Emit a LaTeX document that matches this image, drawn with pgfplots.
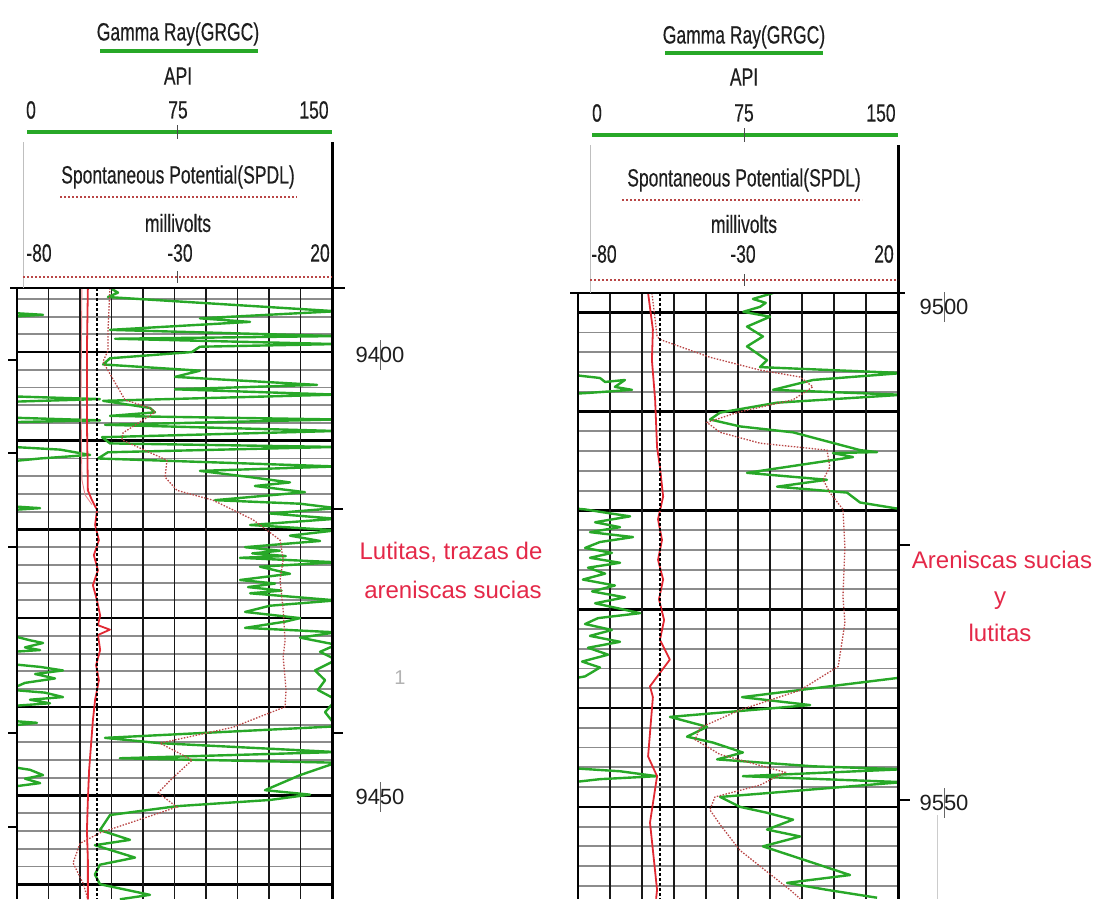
\documentclass[border=0pt]{standalone}
\usepackage{fontspec}
\setmainfont{Liberation Sans}
\newfontfamily\narrow[FakeStretch=0.70, FakeBold=0.35]{Liberation Sans}
\usepackage{pgfplots}
\pgfplotsset{compat=1.18}
\definecolor{grgreen}{RGB}{40,168,40}
\definecolor{spred}{RGB}{185,70,70}
\definecolor{curvered}{RGB}{225,40,50}
\definecolor{annot}{RGB}{228,40,72}
\definecolor{hdrtext}{RGB}{30,30,30}
\newcommand{\hdr}{\narrow\fontsize{25}{29}\selectfont}
\pgfplotsset{
  trackbase/.style={scale only axis, anchor=north west, y dir=reverse,
    axis line style={draw=none}, major tick length=0pt, minor tick length=0pt,
    xticklabels={}, yticklabels={}, clip=true},
  grline/.style={grgreen, line width=2.4pt, line join=round},
  spcurve/.style={spred, line width=1.3pt, dash pattern=on 1.5pt off 1.5pt},
  redcurve/.style={curvered, line width=1.8pt, line join=round},
  shaleline/.style={black, line width=2.2pt, dash pattern=on 2.5pt off 2.5pt},
  hgrid/.style={xtick=\empty, ymajorgrids, yminorgrids,
    major grid style={black, line width=2.6pt},
    minor grid style={black!45, line width=1.9pt}},
  vgrid/.style={xtick={0,15,...,150}, ytick=\empty, xmajorgrids,
    major grid style={black!90, line width=1.8pt}},
}
\begin{document}
\begin{tikzpicture}

% ================= LEFT TRACK =================
\begin{axis}[trackbase, hgrid, at={(17pt,-288pt)}, width=315pt, height=611pt,
  xmin=0, xmax=150, ymin=9392.78, ymax=9461.67,
  ytick={9400,9410,...,9460}, minor ytick={9394,9396,...,9460}]
\end{axis}
\begin{axis}[trackbase, vgrid, at={(17pt,-288pt)}, width=315pt, height=611pt,
  xmin=0, xmax=150, ymin=9392.78, ymax=9461.67]
\addplot[grline] coordinates {(45.2,9392.9) (48.1,9393.3) (43.3,9393.8) (152,9395.4) (87.1,9396.2) (111.0,9396.6) (44.3,9397.5) (152,9398.2) (46.7,9398.5) (152,9399.1) (87.1,9399.4) (83.3,9400.0) (44.3,9400.7) (41.0,9401.4) (87.1,9402.1) (75.2,9402.8) (142.9,9403.7) (75.2,9404.2) (152,9404.8) (41.0,9405.5) (63.3,9406.3) (65.7,9406.8) (44.3,9407.2) (152,9407.6) (41.9,9408.2) (152,9408.9) (40.5,9409.6) (44.3,9410.3) (152,9410.7) (43.3,9411.3) (38.6,9412.0) (152,9412.9) (87.1,9413.4) (111.0,9414.1) (130.0,9414.7) (113.3,9415.1) (137.1,9415.8) (94.3,9416.7) (134.8,9417.1) (152,9417.6) (120.5,9418.2) (152,9418.8) (111.0,9419.5) (152,9420.1) (130.0,9420.7) (144.3,9421.3) (108.6,9422.0) (125.2,9422.4) (112.0,9422.7) (128.0,9423.0) (106.2,9423.2) (152,9423.7) (115.7,9424.2) (130.0,9425.0) (106.2,9425.7) (122.9,9426.1) (110.0,9426.5) (126.0,9426.9) (111.0,9427.2) (152,9428.0) (120.5,9428.6) (108.6,9429.3) (134.8,9430.0) (127.6,9430.4) (108.6,9431.1) (152,9431.6) (134.8,9432.2) (152,9433.0) (144.3,9433.8) (152,9434.7) (141.9,9435.9) (146.7,9437.0) (143.3,9438.1) (152,9439.2) (146.7,9440.6) (152,9442.2) (41.9,9443.5) (68.1,9444.1) (152,9445.1) (49.0,9445.8) (152,9446.3) (134.8,9447.7) (118.1,9449.4) (139.5,9449.9) (120.5,9450.5) (76.2,9451.2) (44.3,9452.2) (39.5,9453.9) (53.8,9455.0) (37.1,9455.6) (56.2,9457.0) (39.5,9457.8) (37.1,9458.9) (39.5,9460.0) (63.3,9461.2) (49.0,9461.7)};
\addplot[grline] coordinates {(-2,9395.6) (12.4,9395.8) (-2,9396.0)};
\addplot[grline] coordinates {(-2,9405.0) (39.5,9405.3) (-2,9405.6)};
\addplot[grline] coordinates {(-2,9407.4) (39.5,9407.7) (-2,9407.9)};
\addplot[grline] coordinates {(-2,9410.7) (20.5,9411.0) (34.8,9411.6) (11,9412.0) (-2,9412.3)};
\addplot[grline] coordinates {(-2,9417.4) (11,9417.6) (-2,9417.8)};
\addplot[grline] coordinates {(-2,9432.0) (6.2,9432.5) (12.4,9432.8) (3.8,9433.3) (11,9433.6) (-2,9433.8)};
\addplot[grline] coordinates {(-2,9435.2) (11,9435.5) (21.9,9435.9) (8.6,9436.3) (18.1,9436.8) (3.8,9437.3) (-2,9437.9)};
\addplot[grline] coordinates {(-2,9438.1) (13.3,9438.4) (21.9,9438.9) (6.2,9439.2) (15.7,9439.6) (-2,9439.9)};
\addplot[grline] coordinates {(-2,9441.6) (9.5,9441.8) (-2,9442.1)};
\addplot[grline] coordinates {(-2,9446.8) (6.2,9447.1) (12.4,9447.7) (3.8,9448.1) (11,9448.6) (-2,9449.0)};
\end{axis}
\begin{axis}[trackbase, at={(17pt,-288pt)}, width=315pt, height=611pt,
  xmin=-80, xmax=20, ymin=9392.78, ymax=9461.67, xtick=\empty, ytick=\empty]
\addplot[spcurve] coordinates {(-50.5,9392.8) (-51.1,9397.5) (-51.1,9399.8) (-52.7,9401.1) (-45.7,9405.4) (-37.8,9406.3) (-36.2,9406.8) (-46.3,9409.1) (-46.7,9409.9) (-32.4,9412.2) (-33.0,9414.1) (-29.2,9415.6) (-17.8,9416.7) (-5.1,9418.9) (3.5,9421.2) (4.5,9423.4) (3.5,9425.7) (4.5,9429.1) (5.1,9432.5) (4.5,9434.4) (5.4,9438.1) (5.1,9440.0) (-11.4,9442.3) (-34.6,9444.1) (-24.4,9446.0) (-31.4,9448.3) (-35.2,9449.7) (-29.2,9451.3) (-53.6,9454.2) (-60.0,9455.4) (-62.2,9457.6) (-59.0,9459.9) (-57.5,9461.7)};
\addplot[curvered!55, line width=0.9pt] coordinates {(-59.4,9392.8) (-59.7,9405.4) (-59.4,9414.4) (-58.4,9416.1) (-56.2,9417.2)};
\addplot[redcurve] coordinates {(-57.5,9392.8) (-57.8,9399.8) (-57.8,9407.7) (-57.5,9415.6) (-56.2,9416.7) (-54.6,9417.8) (-55.2,9419.5) (-54.0,9421.2) (-55.6,9422.9) (-54.3,9424.6) (-55.9,9426.3) (-54.6,9428.0) (-53.6,9429.7) (-54.3,9430.8) (-50.5,9431.3) (-54.3,9431.9) (-53.6,9433.6) (-54.9,9435.3) (-54.0,9437.0) (-55.2,9439.2) (-55.9,9441.5) (-56.5,9444.3) (-57.1,9447.1) (-57.5,9450.5) (-57.8,9453.9) (-57.5,9457.3) (-57.5,9461.7)};
\addplot[shaleline] coordinates {(-54.5,9392.8) (-54.5,9461.7)};
\end{axis}

% ================= RIGHT TRACK =================
\begin{axis}[trackbase, hgrid, at={(578pt,-293pt)}, width=320pt, height=606pt,
  xmin=0, xmax=150, ymin=9498.0, ymax=9559.33,
  ytick={9500,9510,...,9550}, minor ytick={9498,9500,...,9558}]
\end{axis}
\begin{axis}[trackbase, vgrid, at={(578pt,-293pt)}, width=320pt, height=606pt,
  xmin=0, xmax=150, ymin=9498.0, ymax=9559.33]
\addplot[grline] coordinates {(91.4,9498.0) (82.0,9498.6) (88.0,9499.0) (85.3,9499.4) (77.5,9499.9) (90.0,9500.4) (79.2,9501.4) (86.7,9502.4) (79.2,9503.4) (88.6,9504.8) (85.3,9505.5) (152,9506.1) (110.2,9506.8) (91.4,9507.8) (152,9508.3) (93.3,9509.1) (66.6,9510.1) (61.9,9510.8) (75.9,9511.5) (100.8,9512.1) (132.2,9513.9) (140.2,9514.1) (119.5,9514.2) (128.9,9514.6) (79.2,9516.2) (116.7,9516.9) (93.3,9517.6) (126.1,9518.2) (132.2,9519.2) (152,9519.9) (170,9528) (152,9536.9) (76.9,9538.9) (108.8,9539.7) (43.1,9540.9) (60.5,9541.9) (51.1,9542.9) (63.3,9543.5) (77.3,9544.5) (65.2,9545.2) (110.2,9545.9) (152,9546.2) (77.3,9546.9) (152,9547.5) (66.6,9549.0) (75.9,9550.0) (88.6,9550.6) (100.8,9551.3) (88.6,9552.3) (104.1,9553.0) (86.7,9554.0) (100.8,9555.0) (127.5,9556.9) (98.0,9557.7) (116.7,9558.4) (140.2,9559.2)};
\addplot[grline] coordinates {(-2,9506.3) (10.3,9506.6) (12.7,9507.0) (22.0,9506.8) (17.3,9507.5) (25.3,9507.8) (5.6,9508.1) (-2,9508.2)};
\addplot[grline] coordinates {(-2,9519.8) (3.3,9519.9) (15.0,9520.3) (24.4,9520.6) (8.0,9521.2) (19.7,9521.7) (5.6,9522.2) (25.8,9522.7) (10.3,9523.2) (3.3,9523.8) (15.9,9524.3) (5.6,9524.8) (19.7,9525.3) (4.7,9525.8) (12.7,9526.4) (2.3,9527.0) (17.3,9527.6) (6.6,9528.2) (22.0,9528.8) (8.0,9529.4) (29.1,9530.4) (9.4,9530.9) (3.3,9531.5) (15.9,9532.1) (5.6,9532.7) (19.7,9533.3) (4.7,9533.9) (14.1,9534.6) (1.9,9535.3) (10.3,9535.9) (3.3,9536.8) (-2,9537.0)};
\addplot[grline] coordinates {(-2,9546.1) (19.7,9546.4) (37.0,9546.9) (10.3,9547.2) (-2,9547.5)};
\end{axis}
\begin{axis}[trackbase, at={(578pt,-293pt)}, width=320pt, height=606pt,
  xmin=-80, xmax=20, ymin=9498.0, ymax=9559.33, xtick=\empty, ytick=\empty]
\addplot[spcurve] coordinates {(-56.9,9498.0) (-55.9,9500.7) (-55.3,9502.4) (-54.4,9502.7) (-38.8,9504.5) (-23.1,9505.8) (-10.6,9506.5) (-6.6,9507.5) (-12.8,9508.8) (-30.3,9510.1) (-39.7,9511.1) (-35.6,9512.1) (-23.1,9513.2) (-2.2,9513.9) (-1.3,9515.6) (-3.4,9516.9) (-1.3,9518.2) (2.8,9519.9) (3.4,9523.7) (2.8,9528.7) (3.4,9531.4) (1.3,9535.8) (-10.6,9538.2) (-29.4,9540.2) (-41.9,9542.0) (-43.4,9543.2) (-35.6,9544.7) (-15.3,9546.5) (-23.1,9547.8) (-37.2,9549.0) (-38.8,9550.3) (-35.6,9551.8) (-29.4,9554.4) (-21.6,9556.4) (-13.75,9558.4) (-10.6,9559.3)};
\addplot[redcurve] coordinates {(-58.1,9498.0) (-56.6,9501.7) (-56.9,9504.8) (-55.9,9508.8) (-55.3,9513.6) (-54.4,9515.6) (-53.4,9518.6) (-55.0,9520.9) (-53.75,9523.0) (-55.0,9525.0) (-53.4,9527.0) (-54.7,9529.0) (-53.1,9531.1) (-54.4,9533.1) (-51.3,9535.1) (-57.5,9537.8) (-56.6,9538.9) (-58.1,9544.9) (-55.3,9546.9) (-57.5,9551.6) (-55.3,9558.4) (-55.6,9559.3)};
\addplot[shaleline] coordinates {(-54.5,9498.0) (-54.5,9559.3)};
\end{axis}

% ================= FRAMES =================
\draw[black, line width=2.4pt] (10pt,-288pt) -- (345pt,-288pt);
\draw[black, line width=2.4pt] (17pt,-288pt) -- (17pt,-899pt);
\draw[black, line width=3pt] (332pt,-142pt) -- (332pt,-899pt);
\draw[black!25, line width=1pt] (23pt,-142pt) -- (23pt,-288pt);
\draw[black, line width=2.4pt] (570pt,-293pt) -- (905pt,-293pt);
\draw[black, line width=2.4pt] (578pt,-293pt) -- (578pt,-899pt);
\draw[black, line width=3pt] (898pt,-145pt) -- (898pt,-899pt);
\draw[black!25, line width=1pt] (590pt,-145pt) -- (590pt,-293pt);
\foreach \yy in {360,453,547,733,827} {\draw[black, line width=1.4pt] (8pt,-\yy pt) -- (17pt,-\yy pt);}
\foreach \yy in {509,733} {\draw[black, line width=1.4pt] (332pt,-\yy pt) -- (343pt,-\yy pt);}
\foreach \yy in {545,800} {\draw[black, line width=1.4pt] (898pt,-\yy pt) -- (910pt,-\yy pt);}
\draw[black!20, line width=1pt] (937pt,-815pt) -- (937pt,-899pt);

% ================= HEADERS =================
\begin{scope}[every node/.style={font=\hdr, text=hdrtext, inner sep=0pt}]
\node at (178pt,-34pt) {Gamma Ray(GRGC)};
\node at (178pt,-76pt) {API};
\node at (31pt,-110pt) {0};
\node at (178pt,-110pt) {75};
\node at (314pt,-110pt) {150};
\node at (178pt,-177pt) {Spontaneous Potential(SPDL)};
\node at (178pt,-223pt) {millivolts};
\node at (39pt,-253pt) {-80};
\node at (180pt,-253pt) {-30};
\node at (320pt,-253pt) {20};
\node at (744pt,-37pt) {Gamma Ray(GRGC)};
\node at (744pt,-77pt) {API};
\node at (597pt,-113pt) {0};
\node at (744pt,-113pt) {75};
\node at (881pt,-113pt) {150};
\node at (744pt,-180pt) {Spontaneous Potential(SPDL)};
\node at (744pt,-224pt) {millivolts};
\node at (604pt,-254pt) {-80};
\node at (743pt,-254pt) {-30};
\node at (884pt,-254pt) {20};
\end{scope}
\draw[grgreen, line width=3.5pt] (100pt,-51pt) -- (258pt,-51pt);
\draw[grgreen, line width=3.5pt] (665pt,-53pt) -- (823pt,-53pt);
\draw[grgreen, line width=4.5pt] (27pt,-132pt) -- (332pt,-132pt);
\draw[grgreen, line width=4.5pt] (592pt,-135pt) -- (898pt,-135pt);
\draw[black!70, line width=1pt] (177pt,-125pt) -- (177pt,-139pt);
\draw[black!70, line width=1pt] (744pt,-128pt) -- (744pt,-142pt);
\draw[spred, line width=1.8pt, dash pattern=on 2pt off 2pt] (60pt,-197pt) -- (297pt,-197pt);
\draw[spred, line width=1.8pt, dash pattern=on 2pt off 2pt] (622pt,-200pt) -- (862pt,-200pt);
\draw[spred, line width=1.8pt, dash pattern=on 2pt off 2pt] (23pt,-277pt) -- (332pt,-277pt);
\draw[spred, line width=1.8pt, dash pattern=on 2pt off 2pt] (590pt,-280pt) -- (898pt,-280pt);
\draw[black!70, line width=1pt] (177pt,-271pt) -- (177pt,-283pt);
\draw[black!70, line width=1pt] (744pt,-274pt) -- (744pt,-286pt);

% ================= DEPTH LABELS =================
\begin{scope}[every node/.style={font=\fontsize{22}{26}\selectfont, text=hdrtext}]
\node at (380pt,-355pt) {9400};
\node at (380pt,-797pt) {9450};
\node at (944pt,-307pt) {9500};
\node at (944pt,-803pt) {9550};
\end{scope}
\draw[black!60, line width=0.8pt] (380pt,-340pt) -- (380pt,-370pt);
\draw[black!60, line width=0.8pt] (380pt,-782pt) -- (380pt,-812pt);
\draw[black!60, line width=0.8pt] (944pt,-292pt) -- (944pt,-322pt);
\draw[black!60, line width=0.8pt] (944pt,-788pt) -- (944pt,-818pt);
\node[font=\fontsize{20}{24}\selectfont, text=black!30] at (400pt,-678pt) {1};

% ================= ANNOTATIONS =================
\begin{scope}[every node/.style={font=\fontsize{24}{28}\selectfont, text=annot}]
\node at (451pt,-552pt) {Lutitas, trazas de};
\node at (453pt,-590pt) {areniscas sucias};
\node at (1002pt,-560pt) {Areniscas sucias};
\node at (1000pt,-601pt) {y};
\node at (1000pt,-633pt) {lutitas};
\end{scope}

\pgfresetboundingbox
\path[use as bounding box] (0pt,0pt) rectangle (1102pt,-899pt);
\end{tikzpicture}
\end{document}
